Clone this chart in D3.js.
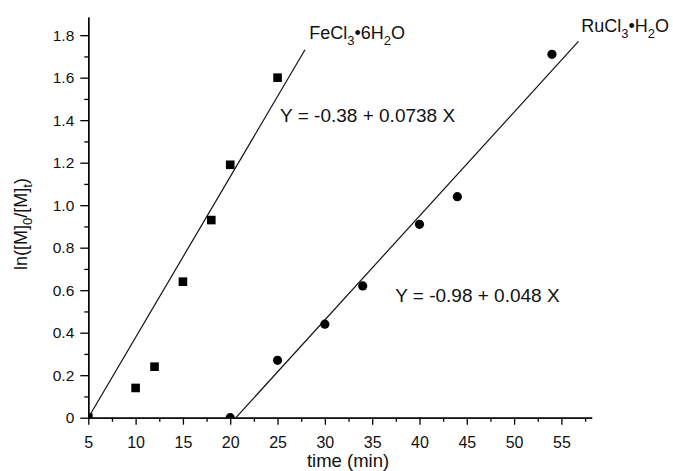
<!DOCTYPE html>
<html>
<head>
<meta charset="utf-8">
<script src="https://d3js.org/d3.v7.min.js"></script>
<style>
  body { margin: 0; background: #fff; }
  svg { font-family: "Liberation Sans", Arial, sans-serif; }
  .axis path, .axis line { stroke: #000; stroke-width: 1.3px; }
  .axis text { fill: #111; }
</style>
</head>
<body>
<div id="chart"></div>
<script>
// data
var feTime = [5, 10, 12, 15, 18, 20, 25],
    feVal  = [0, 0.14, 0.24, 0.64, 0.93, 1.19, 1.60];
var ruTime = [20, 25, 30, 34, 40, 44, 54],
    ruVal  = [0, 0.27, 0.44, 0.62, 0.91, 1.04, 1.71];

// linear fits as drawn (intercept, slope, x range)
var fitIntercept = [-0.378, -1.007],
    fitSlope     = [0.0756, 0.0489],
    fitFrom      = [5, 20.6],
    fitTo        = [27.9, 56.8];

var xTicks = [5, 10, 15, 20, 25, 30, 35, 40, 45, 50, 55],
    xMinor = [7.5, 12.5, 17.5, 22.5, 27.5, 32.5, 37.5, 42.5, 47.5, 52.5, 57.5],
    yTicks = [0, 0.2, 0.4, 0.6, 0.8, 1.0, 1.2, 1.4, 1.6, 1.8],
    yMinor = [0.1, 0.3, 0.5, 0.7, 0.9, 1.1, 1.3, 1.5, 1.7];

var width = 673, height = 471;

var svg = d3.select("#chart").append("svg")
    .attr("width", width)
    .attr("height", height);

var x = d3.scaleLinear().domain([5, 58.2]).range([88.3, 591.7]);
var y = d3.scaleLinear().domain([0, 1.885]).range([417.7, 17.1]);

svg.append("defs").append("clipPath").attr("id", "plot")
  .append("rect")
    .attr("x", x(5)).attr("y", y(1.885))
    .attr("width", x(58.2) - x(5)).attr("height", y(0) - y(1.885));

// axes
svg.append("g").attr("class", "axis")
    .attr("transform", "translate(0," + y(0) + ")")
    .call(d3.axisBottom(x).tickValues(xMinor).tickSize(4).tickSizeOuter(0).tickFormat(""));
svg.append("g").attr("class", "axis")
    .attr("transform", "translate(0," + y(0) + ")")
    .call(d3.axisBottom(x).tickValues(xTicks).tickSize(7).tickSizeOuter(0).tickPadding(12))
    .selectAll("text").style("font-size", "16px");

svg.append("g").attr("class", "axis")
    .attr("transform", "translate(" + x(5) + ",0)")
    .call(d3.axisLeft(y).tickValues(yMinor).tickSize(4).tickSizeOuter(0).tickFormat(""));
svg.append("g").attr("class", "axis")
    .attr("transform", "translate(" + x(5) + ",0)")
    .call(d3.axisLeft(y).tickValues(yTicks).tickSize(8).tickSizeOuter(0).tickPadding(6)
        .tickFormat(function(d) { return d === 0 ? "0" : d3.format(".1f")(d); }))
    .selectAll("text").style("font-size", "15.5px");

// axis titles
svg.append("text")
    .attr("x", (x(5) + x(58.2)) / 2 + 8)
    .attr("y", 467)
    .attr("text-anchor", "middle")
    .style("font-size", "18.5px")
    .attr("fill", "#111")
    .text("time (min)");

var yl = svg.append("text")
    .attr("transform", "translate(27," + 224 + ") rotate(-90)")
    .attr("text-anchor", "middle")
    .attr("fill", "#111")
    .style("font-size", "18px");
yl.append("tspan").text("ln([M]");
yl.append("tspan").attr("dy", 5).style("font-size", "13px").text("0");
yl.append("tspan").attr("dy", -5).text("/[M]");
yl.append("tspan").attr("dy", 5).style("font-size", "13px").text("t");
yl.append("tspan").attr("dy", -5).text(")");

// fit lines
var fits = d3.range(2).map(function(i) {
    return [fitFrom[i], fitTo[i]].map(function(t) {
        return [t, fitIntercept[i] + fitSlope[i] * t];
    });
});
svg.append("g").selectAll("path")
    .data(fits)
    .enter().append("path")
    .attr("d", d3.line().x(function(d) { return x(d[0]); }).y(function(d) { return y(Math.max(0, d[1])); }))
    .attr("fill", "none")
    .attr("stroke", "#111")
    .attr("stroke-width", 1.2);

// markers
var marks = svg.append("g").attr("clip-path", "url(#plot)");
marks.selectAll("rect")
    .data(feTime)
    .enter().append("rect")
    .attr("x", function(d) { return x(d) - 4.3; })
    .attr("y", function(d, i) { return y(feVal[i]) - 4.3; })
    .attr("width", 8.6).attr("height", 8.6)
    .attr("fill", "#000");
marks.selectAll("circle")
    .data(ruTime)
    .enter().append("circle")
    .attr("cx", function(d) { return x(d); })
    .attr("cy", function(d, i) { return y(ruVal[i]); })
    .attr("r", 4.6)
    .attr("fill", "#000");

// labels
function formula(g, px, py, parts) {
    var t = g.append("text").attr("x", x(px)).attr("y", y(py))
        .attr("fill", "#111").style("font-size", "18px");
    var shift = 0;
    parts.forEach(function(p) {
        var dy = (p.sub ? 6 : 0) - shift;
        shift = p.sub ? 6 : 0;
        t.append("tspan").attr("dy", dy).style("font-size", p.sub ? "13px" : "18px").text(p.s);
    });
    return t;
}

formula(svg, 28.34, 1.78, [
    {s: "FeCl"}, {s: "3", sub: true}, {s: "\u2022"}, {s: "6H"}, {s: "2", sub: true}, {s: "O"}
]);
formula(svg, 57.1, 1.816, [
    {s: "RuCl"}, {s: "3", sub: true}, {s: "\u2022"}, {s: "H"}, {s: "2", sub: true}, {s: "O"}
]);

svg.append("text")
    .attr("x", x(25.27)).attr("y", y(1.393))
    .attr("fill", "#111")
    .style("font-size", "19px")
    .text("Y = -0.38 + 0.0738 X");
svg.append("text")
    .attr("x", x(37.43)).attr("y", y(0.546))
    .attr("fill", "#111")
    .style("font-size", "19px")
    .text("Y = -0.98 + 0.048 X");
</script>
</body>
</html>
